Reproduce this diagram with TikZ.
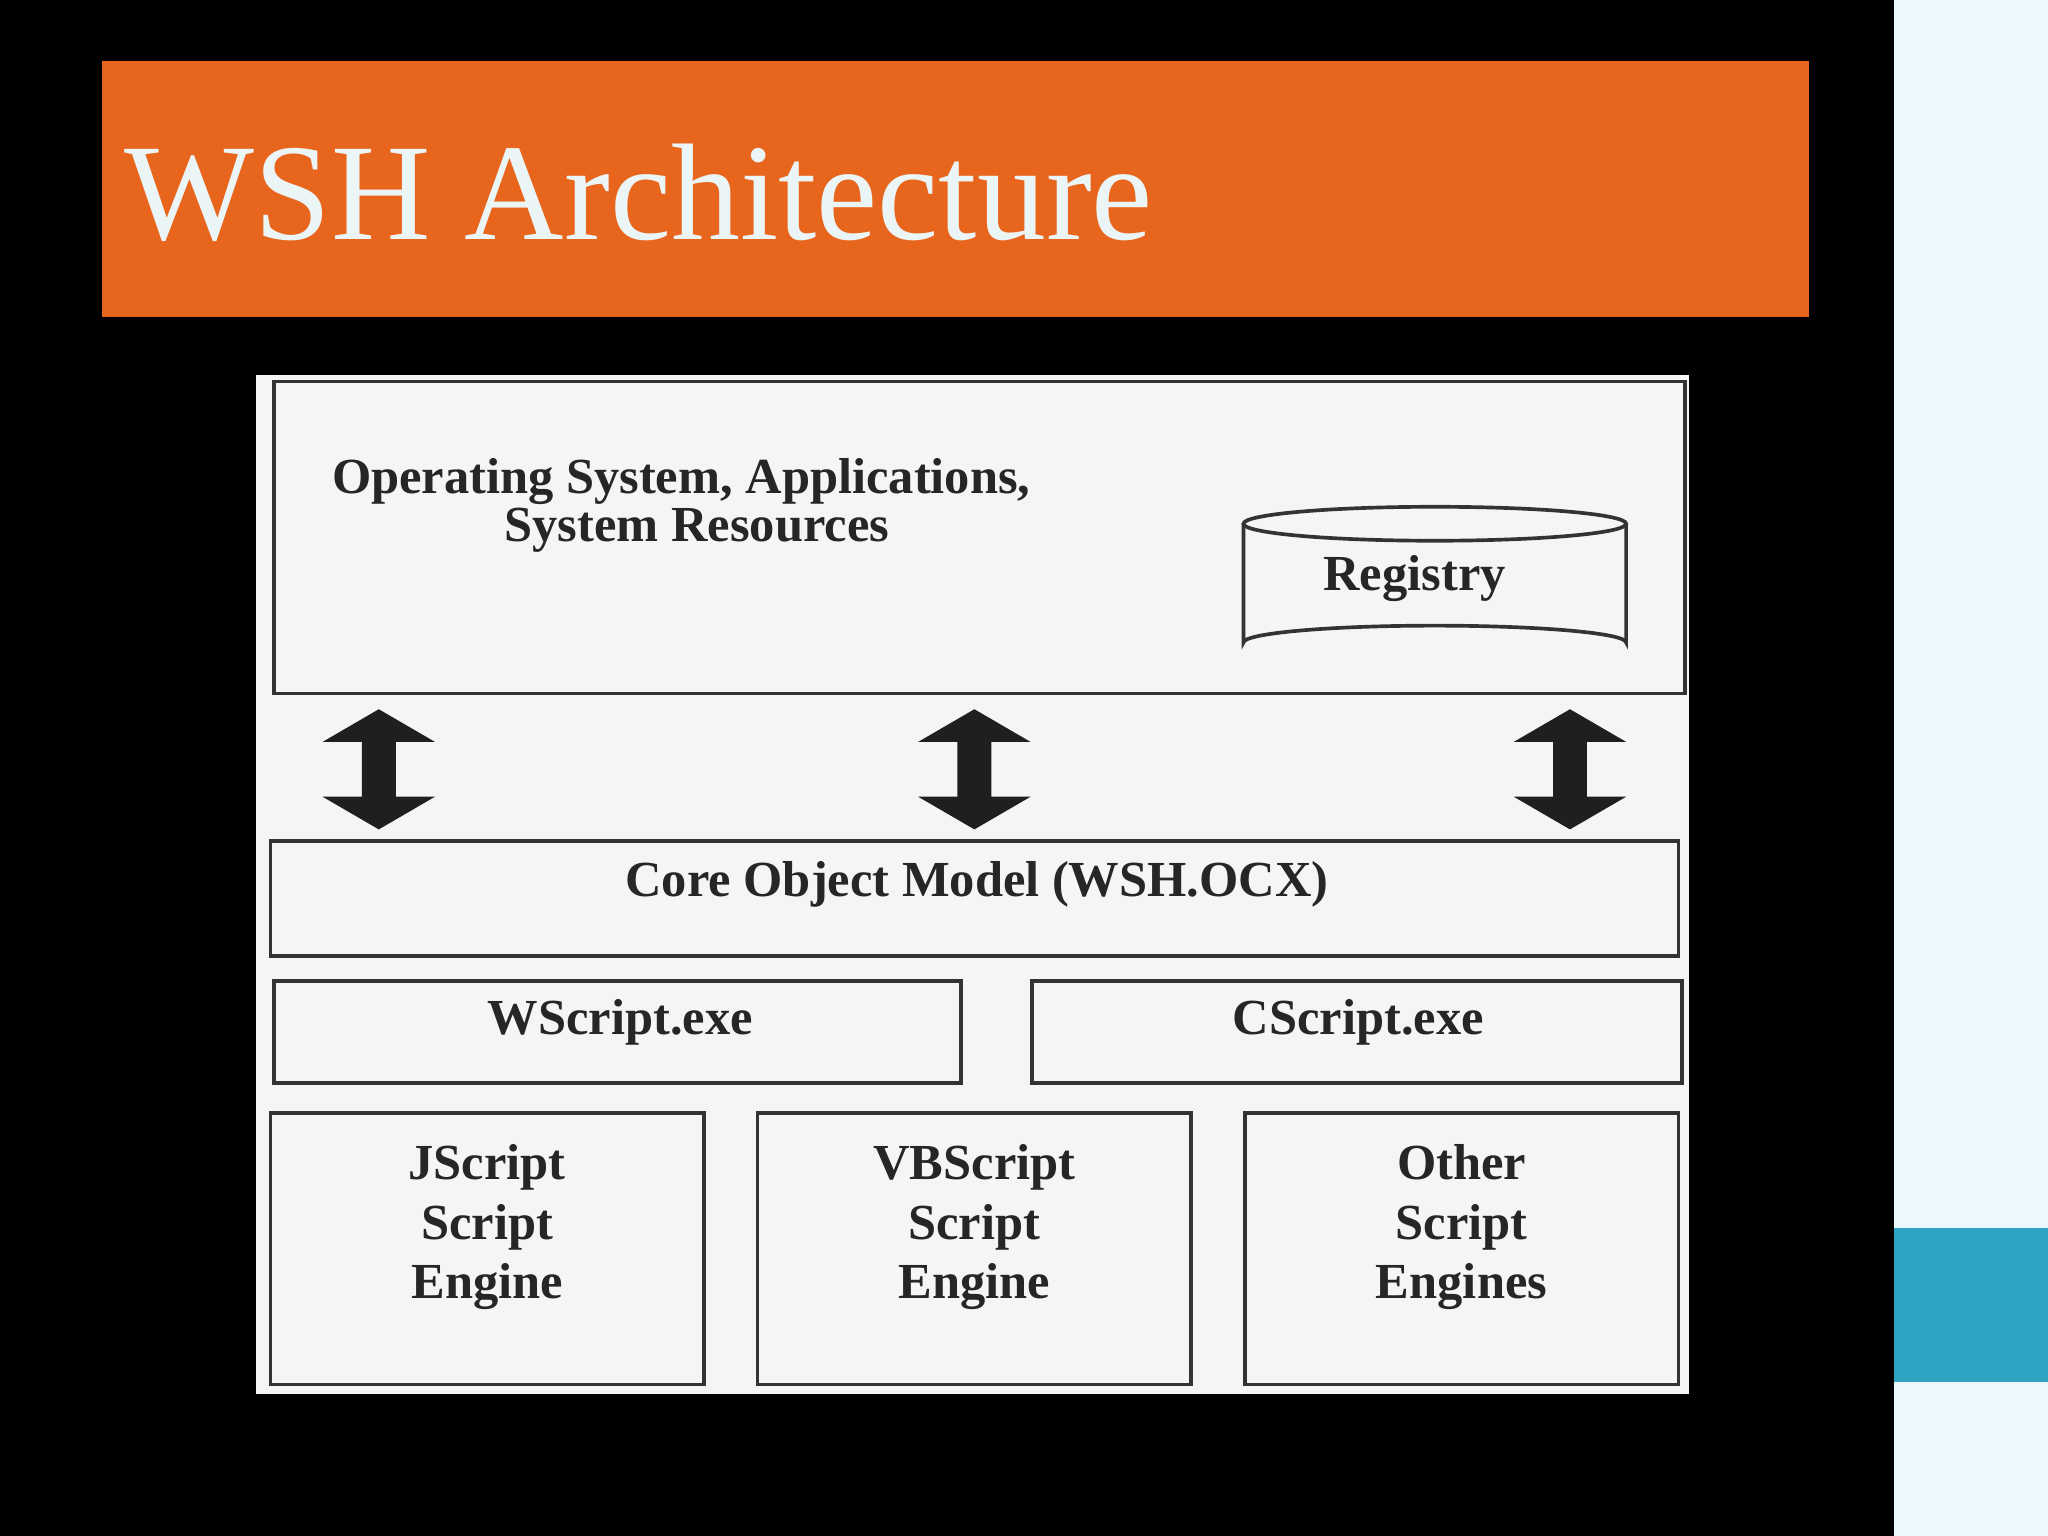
\documentclass[tikz,border=0pt]{standalone}
\usepackage{fontspec}
\setmainfont{Liberation Serif}
\begin{document}
\begin{tikzpicture}[x=0.02cm,y=-0.02cm,
  box/.style={draw=black!80,line width=1.6pt,fill=none},
  lbl/.style={font=\fontsize{22}{26}\selectfont\bfseries,align=center,text=black!85},
  dbl/.style={fill=black!88,draw=none}]
\useasboundingbox (0,0) rectangle (1568,1176);
\fill[black] (0,0) rectangle (1450,1176);
\fill[cyan!8!white] (1450,0) rectangle (1568,1176);
\fill[fill={rgb,255:red,47;green,163;blue,196}] (1450,940) rectangle (1568,1058);
\fill[fill={rgb,255:red,232;green,101;blue,30}] (78,47) rectangle (1385,243);
\node[anchor=base west,inner sep=0,text={rgb,255:red,235;green,245;blue,245},font=\fontsize{60}{60}\selectfont] (title) at (95,183) {WSH Architecture};
\fill[black!4] (196,287) rectangle (1293,1067);
\draw[box] (210,292) rectangle (1290,531);
\node[lbl,anchor=west] (os1) at (248,369) {Operating System, Applications,};
\node[lbl,anchor=west] (os2) at (380,406) {System Resources};
% cylinder
\draw[box] (952,401) -- (952,492) arc[start angle=180,end angle=360,x radius=146.5,y radius=13] -- (1245,401);
\draw[box] (1098.5,401) ellipse[x radius=146.5,y radius=13];
\node[lbl] (reg) at (1083,443) {Registry};
\foreach \c/\n in {290/a1,746/a2,1202/a3}{
  \fill[dbl] (\c,543) -- (\c+43,568) -- (\c+13,568) -- (\c+13,610) -- (\c+43,610) -- (\c,635) -- (\c-43,610) -- (\c-13,610) -- (\c-13,568) -- (\c-43,568) -- cycle;
}
\draw[box] (207,644) rectangle (1285,732);
\node[lbl] (core) at (748,677) {Core Object Model (WSH.OCX)};
\draw[box] (210,751) rectangle (736,829);
\node[lbl] (ws) at (475,783) {WScript.exe};
\draw[box] (790,751) rectangle (1288,829);
\node[lbl] (cs) at (1040,783) {CScript.exe};
\draw[box] (207,852) rectangle (539,1060);
\draw[box] (580,852) rectangle (912,1060);
\draw[box] (953,852) rectangle (1285,1060);
\node[lbl,anchor=north] (js) at (373,870) {JScript\\Script\\Engine};
\node[lbl,anchor=north] (vb) at (746,870) {VBScript\\Script\\Engine};
\node[lbl,anchor=north] (ot) at (1119,870) {Other\\Script\\Engines};
\end{tikzpicture}
\end{document}
